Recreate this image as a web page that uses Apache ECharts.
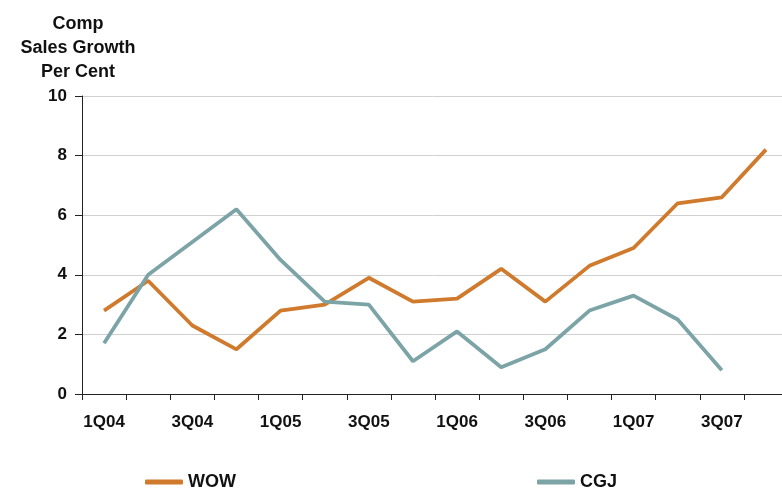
<!DOCTYPE html>
<html><head><meta charset="utf-8">
<script src="https://cdn.jsdelivr.net/npm/echarts@6/dist/echarts.min.js"></script>
<style>html,body{margin:0;padding:0;background:#fff}#c{width:782px;height:488px}</style>
</head><body><div id="c"></div>
<script>
const categories = ['1Q04','2Q04','3Q04','4Q04','1Q05','2Q05','3Q05','4Q05','1Q06','2Q06','3Q06','4Q06','1Q07','2Q07','3Q07','4Q07'];
const wow = [2.8,3.8,2.3,1.5,2.8,3.0,3.9,3.1,3.2,4.2,3.1,4.3,4.9,6.4,6.6,8.2];
const cgj = [1.7,4.0,5.1,6.2,4.5,3.1,3.0,1.1,2.1,0.9,1.5,2.8,3.3,2.5,0.8,null];
const yTitle = ['Comp','Sales Growth','Per Cent'];
const font = 'Liberation Sans, Arial, sans-serif';
const chart = echarts.init(document.getElementById('c'));
const legText = {fontFamily:font,fontWeight:'bold',fontSize:18,color:'#111'};
chart.setOption({
  animation:false,
  title:{text:yTitle.join('\n'),left:73,top:7,textAlign:'center',
    textStyle:{fontFamily:font,fontWeight:'bold',fontSize:18,lineHeight:24,color:'#111'}},
  grid:{left:82,width:706,top:96,height:298,containLabel:false,outerBoundsMode:'none'},
  legend:[
    {data:['WOW'],left:145,top:473,padding:0,icon:'roundRect',itemWidth:38,itemHeight:5,itemGap:5,textStyle:legText},
    {data:['CGJ'],left:537,top:473,padding:0,icon:'roundRect',itemWidth:38,itemHeight:5,itemGap:5,textStyle:legText}
  ],
  xAxis:{type:'category',data:categories,boundaryGap:true,
    axisLine:{lineStyle:{color:'#222',width:1}},
    axisTick:{show:true,interval:0,length:6,lineStyle:{color:'#222'}},
    axisLabel:{interval:1,margin:20,fontFamily:font,fontWeight:'bold',fontSize:17,color:'#111'}},
  yAxis:{type:'value',min:0,max:10,interval:2,
    axisLine:{show:true,lineStyle:{color:'#222'}},
    axisTick:{show:true,length:7,lineStyle:{color:'#222'}},
    splitLine:{lineStyle:{color:'#d0d0d0',width:1}},
    axisLabel:{margin:15,fontFamily:font,fontWeight:'bold',fontSize:17,color:'#111'}},
  series:[
    {name:'WOW',type:'line',data:wow,symbol:'none',color:'#CF7A2C',
      lineStyle:{width:3.8,color:'#CF7A2C'}},
    {name:'CGJ',type:'line',data:cgj,symbol:'none',color:'#7CA4A7',
      lineStyle:{width:3.8,color:'#7CA4A7'}}
  ]
});
</script></body></html>
